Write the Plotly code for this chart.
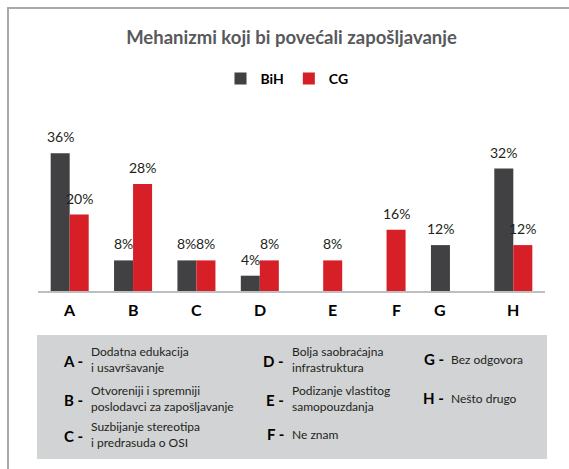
import plotly.graph_objects as go

# ---------------- data ----------------
categories = ["A", "B", "C", "D", "E", "F", "G", "H"]
bih_values = [36, 8, 8, 4, None, None, 12, 32]
cg_values = [20, 28, 8, 8, 8, 16, None, 12]
series_names = ["BiH", "CG"]
title_text = "Mehanizmi koji bi povećali zapošljavanje"

legend_keys = ["A", "B", "C", "D", "E", "F", "G", "H"]
legend_desc = [
    ["Dodatna edukacija", "i usavršavanje"],
    ["Otvoreniji i spremniji", "poslodavci za zapošljavanje"],
    ["Suzbijanje stereotipa", "i predrasuda o OSI"],
    ["Bolja saobraćajna", "infrastruktura"],
    ["Podizanje vlastitog", "samopouzdanja"],
    ["Ne znam"],
    ["Bez odgovora"],
    ["Nešto drugo"],
]

# ---------------- style / layout constants ----------------
W, H = 569, 469
L, R, T, B = 38, 545, 138, 291          # plot area in pixels
PW, PH = R - L, B - T
FONT = "Lato, 'Open Sans', sans-serif"
C_BIH = "#414042"
C_CG = "#d71f27"
BAR_HALF = 0.15                            # half of one bar width (category units)


def px_x(x):
    return (x - L) / PW


def px_y(y):
    return (B - y) / PH


fig = go.Figure()
fig.add_trace(go.Bar(x=categories, y=bih_values, name=series_names[0],
                     marker=dict(color=C_BIH, line=dict(width=0)), hoverinfo="skip"))
fig.add_trace(go.Bar(x=categories, y=cg_values, name=series_names[1],
                     marker=dict(color=C_CG, line=dict(width=0)), hoverinfo="skip"))

annotations = []
# value labels above bars
for i, (b, c) in enumerate(zip(bih_values, cg_values)):
    for v, off in ((b, -BAR_HALF), (c, BAR_HALF)):
        if v is None:
            continue
        annotations.append(dict(x=i + off, y=v, xref="x", yref="y", text=f"{v}%",
                                showarrow=False, yanchor="bottom", yshift=6,
                                font=dict(family=FONT, size=14, color="#231f20")))
# category labels centred under the bars that exist
for i, (cat, b, c) in enumerate(zip(categories, bih_values, cg_values)):
    off = 0
    if b is None and c is not None:
        off = BAR_HALF
    elif c is None and b is not None:
        off = -BAR_HALF
    annotations.append(dict(x=i + off, y=0, xref="x", yref="y", text=f"<b>{cat}</b>",
                            showarrow=False, yanchor="middle", yshift=-18,
                            font=dict(family=FONT, size=16, color="#000000")))

# explanation box texts
col_key_right = [84, 285, 445]
col_desc_left = [90, 291, 450]
row_center = [361, 400, 436]
for k, (key, desc) in enumerate(zip(legend_keys, legend_desc)):
    col, row = k // 3, k % 3
    yc = row_center[row]
    ky = yc - 2 if len(desc) == 1 else yc
    dy = yc - 2
    annotations.append(dict(x=px_x(col_key_right[col]), y=px_y(ky), xref="paper", yref="paper",
                            text=f"<b>{key} -</b>", showarrow=False, xanchor="right",
                            yanchor="middle", borderpad=0,
                            font=dict(family=FONT, size=15, color="#000000")))
    annotations.append(dict(x=px_x(col_desc_left[col]), y=px_y(dy), xref="paper",
                            yref="paper", text="<br>".join(desc), showarrow=False,
                            xanchor="left", yanchor="middle", align="left", borderpad=0,
                            font=dict(family=FONT, size=12, color="#231f20")))

shapes = [
    # outer frame (continues past the right and bottom edges)
    dict(type="rect", xref="paper", yref="paper", x0=px_x(8), x1=px_x(W + 20),
         y0=px_y(8), y1=px_y(H + 20), line=dict(color="#a7a9ac", width=2),
         fillcolor="rgba(0,0,0,0)", layer="below"),
    # grey explanation box
    dict(type="rect", xref="paper", yref="paper", x0=px_x(37), x1=px_x(547),
         y0=px_y(335), y1=px_y(459), line=dict(width=0), fillcolor="#d1d3d4",
         layer="below"),
]

fig.update_layout(
    width=W, height=H,
    margin=dict(l=L, r=W - R, t=T, b=H - B, pad=0),
    paper_bgcolor="white", plot_bgcolor="white",
    barmode="group", bargap=0.4, bargroupgap=0,
    title=dict(text=f"<b>{title_text}</b>", x=0.5, xref="paper", xanchor="center",
               y=1 - 38 / H, yref="container", yanchor="middle",
               font=dict(family=FONT, size=18.5, color="#58595b")),
    legend=dict(orientation="h", x=px_x(287), xanchor="center", y=px_y(79),
                yanchor="middle",
                font=dict(family=FONT, size=14, color="#000000", weight="bold"),
                bgcolor="rgba(0,0,0,0)", itemclick=False, itemdoubleclick=False),
    xaxis=dict(type="category", range=[-0.5, len(categories) - 0.5], showline=True,
               linecolor="#bcbec0", linewidth=1.5, showticklabels=False, ticks="",
               showgrid=False, zeroline=False, fixedrange=True),
    yaxis=dict(range=[0, 40], visible=False, showgrid=False, zeroline=False,
               fixedrange=True),
    annotations=annotations,
    shapes=shapes,
    showlegend=True,
)

fig.write_html("out.html", config={"displayModeBar": False},
               post_script="document.body.style.margin='0px';")
